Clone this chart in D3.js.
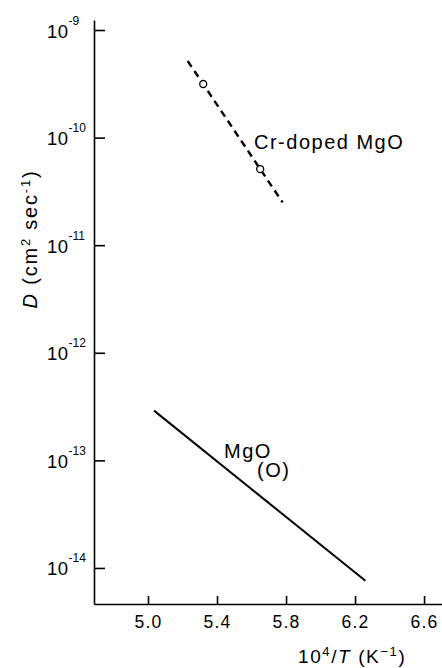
<!DOCTYPE html>
<meta charset="utf-8">
<style>
    body { margin: 0; background: #fff; }
    svg { font-family: "Liberation Sans", Arial, sans-serif; }
    .axis path, .axis line { stroke: #000; stroke-width: 1.6px; }
    .axis text { fill: #000; }
    .cr { fill: none; stroke: #000; stroke-width: 2.4px; stroke-dasharray: 7,5; }
    .mgo { fill: none; stroke: #000; stroke-width: 2px; }
    .pt { fill: #fff; stroke: #000; stroke-width: 1.3px; }
    .lbl { font-size: 20px; letter-spacing: 1.5px; }
</style>
<svg></svg>
<script src="https://cdn.jsdelivr.net/npm/d3@7"></script>
<script>

    var width = 442,
        height = 668;

    // data
    var xTicks = [5.0, 5.4, 5.8, 6.2, 6.6];
    var yTickExps = [-9, -10, -11, -12, -13, -14];
    var crDopedLine = [[5.23, 5.15e-10], [5.78, 2.5e-11]];
    var crDopedPoints = [[5.32, 3.15e-10], [5.65, 5.1e-11]];
    var mgoLine = [[5.035, 2.9e-13], [6.26, 7.6e-15]];

    var x = d3.scaleLinear().domain([4.687, 6.704]).range([94, 442]);
    var y = d3.scaleLog().domain([Math.pow(10, -8.907), Math.pow(10, -14.335)]).range([20, 604]);

    var svg = d3.select("svg")
        .attr("width", width)
        .attr("height", height);

    // x axis, ticks pointing up
    var gx = svg.append("g")
        .attr("class", "axis")
        .attr("transform", "translate(0,604)")
        .call(d3.axisBottom(x).tickValues(xTicks).tickFormat(d3.format(".1f"))
            .tickSizeInner(-8).tickSizeOuter(0).tickPadding(12));
    gx.selectAll("text").attr("font-size", 17.5).attr("letter-spacing", 1.2);

    // y axis, ticks pointing right, labels as 10^n
    var gy = svg.append("g")
        .attr("class", "axis")
        .attr("transform", "translate(94,0)")
        .call(d3.axisLeft(y).tickValues(yTickExps.map(function(e) { return Math.pow(10, e); }))
            .tickSizeInner(-11).tickSizeOuter(0).tickFormat(""));

    gy.selectAll(".tick").each(function(d, i) {
        var t = d3.select(this).select("text")
            .attr("x", -47).attr("dy", null).attr("y", 7)
            .attr("text-anchor", "start")
            .attr("font-size", 18.5);
        t.text(null);
        t.append("tspan").attr("letter-spacing", 0.5).text("10");
        t.append("tspan").attr("font-size", 12).attr("dy", -13).text("-" + Math.abs(yTickExps[i]));
    });

    var line = d3.line()
        .x(function(d) { return x(d[0]); })
        .y(function(d) { return y(d[1]); });

    svg.append("path").datum(crDopedLine).attr("class", "cr").attr("d", line);
    svg.append("path").datum(mgoLine).attr("class", "mgo").attr("d", line);

    svg.selectAll(".pt")
        .data(crDopedPoints)
        .enter().append("circle")
        .attr("class", "pt")
        .attr("r", 3.5)
        .attr("cx", function(d) { return x(d[0]); })
        .attr("cy", function(d) { return y(d[1]); });

    svg.append("text").attr("class", "lbl").attr("x", 254).attr("y", 149).text("Cr-doped MgO");
    svg.append("text").attr("class", "lbl").attr("x", 224).attr("y", 458).text("MgO");
    svg.append("text").attr("class", "lbl").attr("x", 257).attr("y", 477).text("(O)");

    // axis titles
    var xt = svg.append("text").attr("x", 298).attr("y", 663).attr("font-size", 19).attr("letter-spacing", 1.6);
    xt.append("tspan").text("10");
    xt.append("tspan").attr("font-size", 13).attr("dy", -7).text("4");
    xt.append("tspan").attr("dy", 7).text("/");
    xt.append("tspan").attr("font-style", "italic").text("T");
    xt.append("tspan").text(" (K");
    xt.append("tspan").attr("font-size", 13).attr("dy", -7).text("\u22121");
    xt.append("tspan").attr("dy", 7).text(")");

    var yt = svg.append("text")
        .attr("transform", "translate(37,239) rotate(-90)")
        .attr("text-anchor", "middle")
        .attr("font-size", 20)
        .attr("letter-spacing", 1.8);
    yt.append("tspan").attr("font-style", "italic").text("D");
    yt.append("tspan").text(" (cm");
    yt.append("tspan").attr("font-size", 13).attr("dy", -7).text("2");
    yt.append("tspan").attr("dy", 7).text(" sec");
    yt.append("tspan").attr("font-size", 13).attr("dy", -7).text("-1");
    yt.append("tspan").attr("dy", 7).text(")");

</script>
